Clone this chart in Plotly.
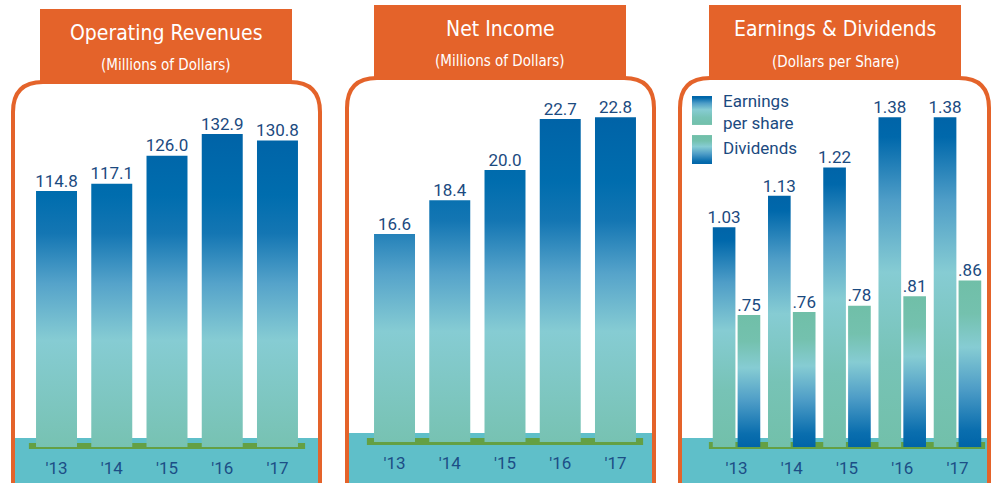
import plotly.graph_objects as go

# ---------------- data ----------------
years = ["'13", "'14", "'15", "'16", "'17"]
revenues = [114.8, 117.1, 126.0, 132.9, 130.8]
net_income = [16.6, 18.4, 20.0, 22.7, 22.8]
earnings = [1.03, 1.13, 1.22, 1.38, 1.38]
dividends = [0.75, 0.76, 0.78, 0.81, 0.86]

titles = ["Operating Revenues", "Net Income", "Earnings & Dividends"]
subtitles = ["(Millions of Dollars)", "(Millions of Dollars)", "(Dollars per Share)"]
legend_labels = ["Earnings<br>per share", "Dividends"]

# ---------------- style ----------------
W, H = 992, 483
ORANGE = "#E4632A"
TEAL_BAND = "#5FBFC9"
GREEN_LINE = "#64A044"
LABEL = "#1B4A80"
TICK = "#1C4E86"
NUM_FONT = "Roboto, Lato, sans-serif"
TITLE_FONT = "Liberation Sans Narrow, DejaVu Sans Condensed, sans-serif"

abs_scale = [[0.0, "#77C2B2"], [0.34, "#86CCD3"], [0.52, "#55A3CA"],
             [0.68, "#1476B3"], [0.8, "#006DAE"], [1.0, "#0063A7"]]
earn_scale = [[0.0, "#72C0AA"], [0.26, "#77C3B6"], [0.53, "#86CCD3"],
              [0.75, "#4E9DC7"], [0.94, "#0068AB"], [1.0, "#0064A8"]]
div_scale = [[0.0, "#0064A8"], [0.1, "#0A6EAE"], [0.35, "#4E9DC7"],
             [0.6, "#86CCD3"], [0.8, "#74C1AE"], [1.0, "#70BFA8"]]


def px(x):
    return x / W


def py(y):
    return 1 - y / H


# panel geometry (pixels)
panels = [
    dict(xd=(28.9, 305.1), bottom=447, top=90, floor=33.5, scale=3.15,
         box=(40, 292, 9, 82), border=(13, 320, 82), band=438, gl=(443, 449),
         ty=33, sy=65),
    dict(xd=(366.9, 643.1), bottom=442, top=90, floor=5.57, scale=18.85,
         box=(374, 626, 5, 78), border=(347, 654, 78), band=433, gl=(438, 445),
         ty=29, sy=61),
    dict(xd=(708.9, 985.1), bottom=447, top=90, floor=0.33, scale=314.0,
         box=(709, 961, 5, 78), border=(680, 989, 78), band=438, gl=(442, 449),
         ty=29, sy=62),
]
for p in panels:
    p["ymax"] = p["floor"] + (p["bottom"] - p["top"]) / p["scale"]

fig = go.Figure()


def bar_trace(xc, w, v, floor, scale, start, stop, ax):
    xs = [xc - w / 2, xc + w / 2, xc + w / 2, xc - w / 2, xc - w / 2]
    ys = [floor, floor, v, v, floor]
    return go.Scatter(x=xs, y=ys, fill="toself", mode="lines",
                      line=dict(width=0, color="rgba(0,0,0,0)"),
                      fillgradient=dict(type="vertical", colorscale=scale,
                                        start=start, stop=stop),
                      hoverinfo="skip", showlegend=False,
                      xaxis="x" + ax, yaxis="y" + ax)


def text_trace(xs, ys, texts, ax):
    return go.Scatter(x=xs, y=ys, mode="text", text=texts,
                      textposition="top center",
                      textfont=dict(family=NUM_FONT, size=17, color=LABEL),
                      hoverinfo="skip", showlegend=False, cliponaxis=False,
                      xaxis="x" + ax, yaxis="y" + ax)


xi = list(range(len(years)))
bw = 0.742

# panel 1
p = panels[0]
stop1 = p["floor"] + 314 / p["scale"]
for i, v in enumerate(revenues):
    fig.add_trace(bar_trace(i, bw, v, p["floor"], abs_scale, p["floor"], stop1, ""))
fig.add_trace(text_trace(xi, revenues, [f"{v:.1f}" for v in revenues], ""))

# panel 2
p = panels[1]
stop2 = p["floor"] + 325 / p["scale"]
for i, v in enumerate(net_income):
    fig.add_trace(bar_trace(i, bw, v, p["floor"], abs_scale, p["floor"], stop2, "2"))
fig.add_trace(text_trace(xi, net_income, [f"{v:.1f}" for v in net_income], "2"))

# panel 3
p = panels[2]
off, w3 = 0.225, 0.41
for i, v in enumerate(earnings):
    fig.add_trace(bar_trace(i - off, w3, v, p["floor"], earn_scale, p["floor"], v, "3"))
for i, v in enumerate(dividends):
    fig.add_trace(bar_trace(i + off, w3, v, p["floor"], div_scale, p["floor"], v, "3"))
fig.add_trace(text_trace([i - off for i in xi], earnings, [f"{v:.2f}" for v in earnings], "3"))
fig.add_trace(text_trace([i + off for i in xi], dividends,
                         [f"{v:.2f}".lstrip("0") for v in dividends], "3"))

# legend swatches on their own small axes (earnings on top, dividends below)
fig.add_trace(bar_trace(0.5, 1.0, 2.35, 1.35, earn_scale, 1.35, 2.35, "4"))
fig.add_trace(bar_trace(0.5, 1.0, 1.0, 0.0, div_scale, 0.0, 1.0, "4"))

# ---------------- layout ----------------
shapes = []
annotations = []
for k, p in enumerate(panels):
    l, r, t = p["border"]
    rad = 30
    shapes.append(dict(type="rect", xref="paper", yref="paper",
                       x0=px(l), x1=px(r), y0=py(H + 10), y1=py(p["band"]),
                       fillcolor=TEAL_BAND, line=dict(width=0), layer="below"))
    shapes.append(dict(type="rect", xref="paper", yref="paper",
                       x0=px(p["xd"][0]), x1=px(p["xd"][1]),
                       y0=py(p["gl"][1]), y1=py(p["gl"][0]),
                       fillcolor=GREEN_LINE, line=dict(width=0), layer="below"))
    path = (f"M {px(l)},{py(H + 10)} L {px(l)},{py(t + rad)} "
            f"Q {px(l)},{py(t)} {px(l + rad)},{py(t)} "
            f"L {px(r - rad)},{py(t)} "
            f"Q {px(r)},{py(t)} {px(r)},{py(t + rad)} "
            f"L {px(r)},{py(H + 10)}")
    shapes.append(dict(type="path", xref="paper", yref="paper", path=path,
                       line=dict(color=ORANGE, width=4), layer="below"))
    bx0, bx1, by0, by1 = p["box"]
    shapes.append(dict(type="rect", xref="paper", yref="paper",
                       x0=px(bx0), x1=px(bx1), y0=py(by1), y1=py(by0),
                       fillcolor=ORANGE, line=dict(width=0), layer="below"))
    cx = px((bx0 + bx1) / 2)
    annotations.append(dict(xref="paper", yref="paper", x=cx, y=py(p["ty"]),
                            text=titles[k], showarrow=False, xanchor="center",
                            yanchor="middle",
                            font=dict(family=TITLE_FONT, size=21, color="white")))
    annotations.append(dict(xref="paper", yref="paper", x=cx, y=py(p["sy"]),
                            text=subtitles[k], showarrow=False, xanchor="center",
                            yanchor="middle",
                            font=dict(family=TITLE_FONT, size=15, color="white")))

# legend text
for txt, yy in zip(legend_labels, [112, 148]):
    annotations.append(dict(xref="paper", yref="paper", x=px(721), y=py(yy),
                            text=txt, showarrow=False, xanchor="left",
                            yanchor="middle", align="left",
                            font=dict(family=NUM_FONT, size=17, color=LABEL)))

layout = dict(
    width=W, height=H, autosize=False,
    margin=dict(l=0, r=0, t=0, b=0),
    paper_bgcolor="white", plot_bgcolor="rgba(0,0,0,0)",
    showlegend=False, shapes=shapes, annotations=annotations,
)
names = ["", "2", "3"]
for k, p in enumerate(panels):
    xa = dict(domain=[px(p["xd"][0]), px(p["xd"][1])], range=[-0.5, 4.5],
              tickvals=xi, ticktext=years, showgrid=False, zeroline=False,
              showline=False, ticks="", fixedrange=True,
              tickfont=dict(family=NUM_FONT, size=17, color=TICK),
              anchor="y" + names[k], ticklabelstandoff=9)
    ya = dict(domain=[py(p["bottom"]), py(p["top"])], range=[p["floor"], p["ymax"]],
              showgrid=False, zeroline=False, showline=False, showticklabels=False,
              fixedrange=True, anchor="x" + names[k])
    layout["xaxis" + names[k]] = xa
    layout["yaxis" + names[k]] = ya

layout["xaxis4"] = dict(domain=[px(692), px(712)], range=[0, 1], visible=False,
                        fixedrange=True, anchor="y4")
layout["yaxis4"] = dict(domain=[py(164), py(96)], range=[0, 2.35], visible=False,
                        fixedrange=True, anchor="x4")

fig.update_layout(**layout)
fig.write_html("out.html", config={"displayModeBar": False},
               post_script="document.body.style.margin='0';"
                           "document.body.style.overflow='hidden';")
